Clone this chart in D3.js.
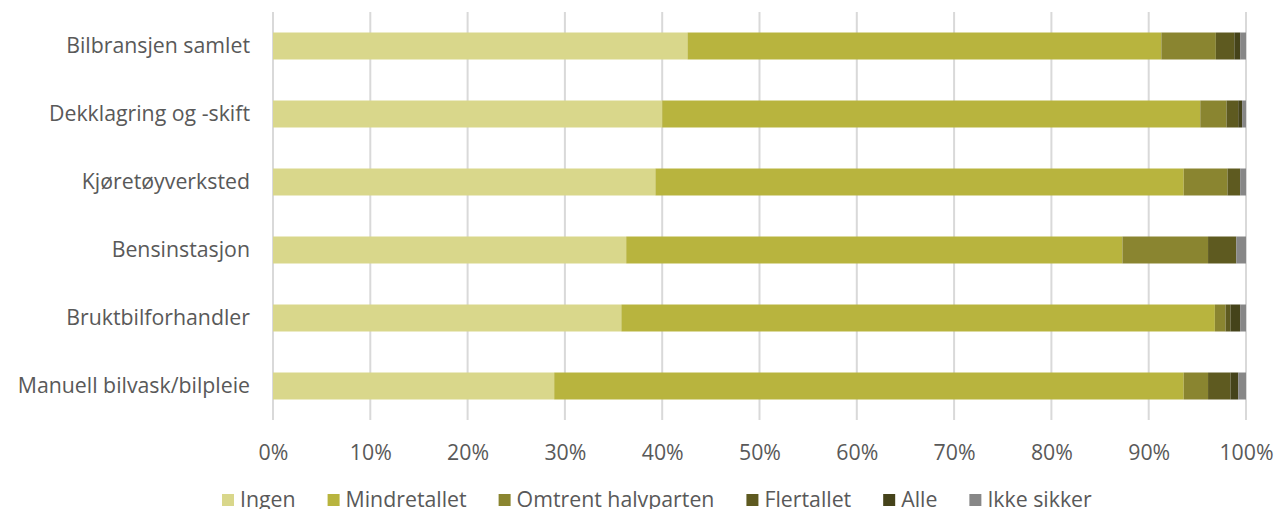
<!DOCTYPE html>
<html><head><meta charset="utf-8">
<script src="https://cdn.jsdelivr.net/npm/d3@7"></script>
<style>
html,body{margin:0;padding:0;background:#fff;}
text{font-family:"Open Sans", sans-serif;fill:#595959;}
</style></head>
<body>
<svg id="chart" width="1274" height="509"></svg>
<script>
const categories = ["Bilbransjen samlet","Dekklagring og -skift","Kjøretøyverksted","Bensinstasjon","Bruktbilforhandler","Manuell bilvask/bilpleie "];
const seriesNames = ["Ingen","Mindretallet","Omtrent halvparten","Flertallet","Alle","Ikke sikker"];
const ingen        = [42.6, 40.0, 39.3, 36.3, 35.8, 28.9];
const mindretallet = [48.7, 55.3, 54.3, 51.0, 61.0, 64.7];
const omtrent      = [5.6, 2.7, 4.5, 8.8, 1.1, 2.5];
const flertallet   = [1.9, 1.2, 1.3, 2.9, 0.5, 2.3];
const alle         = [0.6, 0.4, 0.0, 0.0, 1.0, 0.8];
const ikkeSikker   = [0.6, 0.4, 0.6, 1.0, 0.6, 0.8];
const tickValues = [0,10,20,30,40,50,60,70,80,90,100];
const colors = ["#D9D78B","#B8B43E","#8A8530","#5E5A20","#45431A","#878787"];

const seriesValues = [ingen, mindretallet, omtrent, flertallet, alle, ikkeSikker];
const table = categories.map((c,i)=>{
  const row = {cat:c};
  seriesNames.forEach((s,j)=>row[s]=seriesValues[j][i]);
  return row;
});

const FS = "21.3px";
const svg = d3.select("#chart");
const x = d3.scaleLinear().domain([0,100]).range([273,1246]);
const y = d3.scaleBand().domain(categories).range([12,420]).paddingInner(0.603).paddingOuter(0.3015);

// gridlines
svg.append("g").selectAll("line").data(tickValues).join("line")
  .attr("x1",d=>x(d)).attr("x2",d=>x(d)).attr("y1",12).attr("y2",420)
  .attr("stroke","#D9D9D9").attr("stroke-width",2);

const stack = d3.stack().keys(seriesNames)(table);
svg.append("g").selectAll("g").data(stack).join("g")
  .attr("fill",(d,i)=>colors[i])
  .selectAll("rect").data(d=>d).join("rect")
  .attr("x",d=>x(d[0])).attr("width",d=>Math.max(0,x(d[1])-x(d[0])))
  .attr("y",d=>y(d.data.cat)).attr("height",y.bandwidth());

// x axis labels
const xAxis = d3.axisBottom(x).tickValues(tickValues).tickFormat(d=>d+"%").tickSize(0).tickPadding(0);
const gx = svg.append("g").attr("transform","translate(0,460)").call(xAxis);
gx.select(".domain").remove();
gx.selectAll("text").attr("dy",0).attr("y",0).style("font-size",FS).attr("fill","#595959").attr("font-family","Open Sans");

// y axis labels
const yAxis = d3.axisLeft(y).tickSize(0).tickPadding(0);
const gy = svg.append("g").attr("transform","translate(250,0)").call(yAxis);
gy.select(".domain").remove();
gy.selectAll("text").attr("dy","0.35em").style("font-size",FS).attr("fill","#595959").attr("font-family","Open Sans");

// legend
const lg = svg.append("g");
let lx = 222;
seriesNames.forEach((s,i)=>{
  lg.append("rect").attr("x",lx).attr("y",494).attr("width",12).attr("height",12).attr("fill",colors[i]);
  const t = lg.append("text").attr("x",lx+18).attr("y",507).style("font-size",FS).text(s);
  const w = t.node().getComputedTextLength();
  lx = lx + 18 + w + 32;
});
</script>
</body></html>
